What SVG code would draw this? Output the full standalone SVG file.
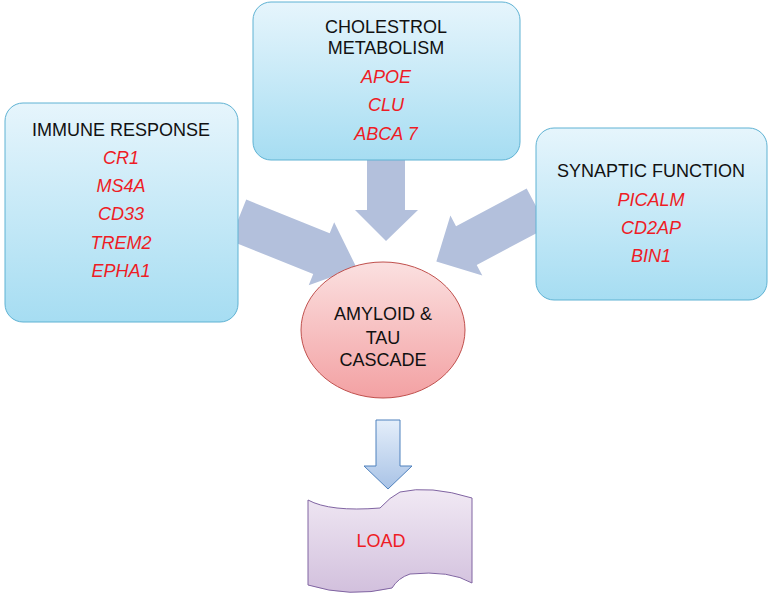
<svg xmlns="http://www.w3.org/2000/svg" width="771" height="599" viewBox="0 0 771 599">
<defs>
<linearGradient id="bg" x1="0" y1="0" x2="0" y2="1"><stop offset="0" stop-color="#e6f5fc"/><stop offset="1" stop-color="#a6ddf2"/></linearGradient>
<linearGradient id="rg" x1="0" y1="0" x2="0" y2="1"><stop offset="0" stop-color="#fbe0e0"/><stop offset="1" stop-color="#f3a1a3"/></linearGradient>
<linearGradient id="pg" x1="0" y1="0" x2="0" y2="1"><stop offset="0" stop-color="#f1e9f4"/><stop offset="1" stop-color="#d2c0dd"/></linearGradient>
<linearGradient id="ag" x1="0" y1="0" x2="0" y2="1"><stop offset="0" stop-color="#e4eefa"/><stop offset="1" stop-color="#a9c3e6"/></linearGradient>
</defs>
<style>
.box{fill:url(#bg);stroke:#5fb2d3;stroke-width:1}
.t{font-family:"Liberation Sans",Arial,sans-serif;font-size:18px;fill:#111;text-anchor:middle}
.g{font-family:"Liberation Sans",Arial,sans-serif;font-size:18px;fill:#ee1c25;font-style:italic;text-anchor:middle}
.big{fill:#b3c0dc}
</style>
<g id="connectors">
<polygon class="big" points="0,-22 90,-22 90,-34 128,0 90,34 90,22 0,22" transform="translate(238,220) rotate(22)"/>
<polygon class="big" points="0,-22 80,-22 80,-34 114,0 80,34 80,22 0,22" transform="translate(537,208) rotate(152)"/>
<polygon class="big" points="367,160 405,160 405,210 418,210 386,241 355,210 367,210"/>
<polygon points="376,420 400,420 400,466 412,466 388,489 364,466 376,466" fill="url(#ag)" stroke="#4f81bd" stroke-width="1"/>
</g>
<g id="immune">
<rect class="box" x="5" y="103" width="233" height="219" rx="18"/>
<text class="t" x="121" y="136">IMMUNE RESPONSE</text>
<text class="g" x="121" y="164">CR1</text>
<text class="g" x="121" y="192">MS4A</text>
<text class="g" x="121" y="220">CD33</text>
<text class="g" x="121" y="249">TREM2</text>
<text class="g" x="121" y="277">EPHA1</text>
</g>
<g id="cholesterol">
<rect class="box" x="253" y="2" width="267" height="158" rx="18"/>
<text class="t" x="386" y="33">CHOLESTROL</text>
<text class="t" x="386" y="54">METABOLISM</text>
<text class="g" x="386" y="83">APOE</text>
<text class="g" x="386" y="111">CLU</text>
<text class="g" x="386" y="140">ABCA 7</text>
</g>
<g id="synaptic">
<rect class="box" x="536" y="128" width="231" height="172" rx="18"/>
<text class="t" x="651" y="177">SYNAPTIC FUNCTION</text>
<text class="g" x="651" y="206">PICALM</text>
<text class="g" x="651" y="234">CD2AP</text>
<text class="g" x="651" y="262">BIN1</text>
</g>
<g id="cascade">
<ellipse cx="383" cy="330" rx="82" ry="68" fill="url(#rg)" stroke="#c0504d" stroke-width="1"/>
<text class="t" x="383" y="320">AMYLOID &amp;</text>
<text class="t" x="383" y="344">TAU</text>
<text class="t" x="383" y="366">CASCADE</text>
</g>
<g id="load">
<path d="M308,500 Q330,512 380,508 Q390,497 400,492 Q430,485 472,498 L472,583 Q450,570 410,574 Q398,578 392,588 Q350,598 308,585 Z" fill="url(#pg)" stroke="#8064a2" stroke-width="1"/>
<text x="381" y="547" font-family="Liberation Sans, Arial, sans-serif" font-size="18" fill="#ee1c25" text-anchor="middle">LOAD</text>
</g>
</svg>
